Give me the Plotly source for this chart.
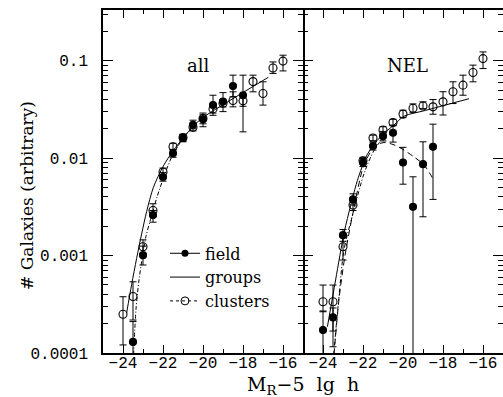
import plotly.graph_objects as go

# ---------------- tick labels ----------------
y_tickvals = [1e-4, 1e-3, 1e-2, 1e-1]
y_ticktext = ["0.0001", "0.001", "0.01", "0.1"]
y_minorvals = [m * d for d in (1e-4, 1e-3, 1e-2, 1e-1) for m in range(2, 10)]
x_tickvals = [-24, -22, -20, -18, -16]
x_minorvals = [-25, -23, -21, -19, -17, -15]

# ---------------- panel "all" ----------------
all_field_x = [-23.5, -23, -22.5, -22, -21.5, -21, -20.5, -20, -19.5, -19, -18.5, -18]
all_field_y = [0.00013, 0.00101, 0.0026, 0.0064, 0.0112, 0.0161, 0.0220, 0.0250, 0.0350, 0.0380, 0.0548, 0.0442]
all_field_lo = [0.00005, 0.00080, 0.0022, 0.0058, 0.0102, 0.0147, 0.0200, 0.0225, 0.0275, 0.0300, 0.0426, 0.0186]
all_field_hi = [0.00021, 0.00125, 0.0029, 0.0071, 0.0123, 0.0175, 0.0245, 0.0278, 0.0442, 0.0470, 0.0710, 0.0710]

all_clus_x = [-24, -23.5, -23, -22.5, -22, -21.5, -21, -20.5, -20, -19.5, -19, -18.5, -18, -17.5, -17, -16.5, -16]
all_clus_y = [0.00025, 0.00038, 0.00123, 0.0029, 0.0072, 0.0131, 0.0163, 0.0207, 0.0255, 0.0320, 0.0365, 0.0390, 0.0387, 0.0610, 0.0460, 0.0840, 0.0990]
all_clus_lo = [0.000121, 0.000218, 0.00105, 0.0025, 0.0066, 0.0121, 0.0150, 0.0190, 0.0210, 0.0290, 0.0335, 0.0336, 0.0340, 0.0479, 0.0350, 0.0740, 0.0785]
all_clus_hi = [0.000378, 0.000538, 0.00145, 0.0034, 0.0079, 0.0142, 0.0176, 0.0225, 0.0290, 0.0355, 0.0400, 0.0479, 0.0440, 0.0710, 0.0607, 0.0970, 0.1138]

all_groups_fit_x = [-23.82, -23.57, -23.32, -23.07, -22.82, -22.48, -21.98, -21.48, -20.98, -20.48, -19.98, -18.82, -16.73]
all_groups_fit_y = [0.000257, 0.000501, 0.000933, 0.00166, 0.00282, 0.00501, 0.00832, 0.0120, 0.0162, 0.0214, 0.0263, 0.0372, 0.0676]

all_clus_fit_x = [-23.47, -23.35, -23.2, -23.05, -22.85, -22.65, -22.3, -21.9, -21.5, -21.0, -20.5]
all_clus_fit_y = [0.0000955, 0.000282, 0.000562, 0.000912, 0.00158, 0.00224, 0.00398, 0.00692, 0.0110, 0.0158, 0.0209]

# ---------------- panel "NEL" ----------------
nel_field_x = [-24, -23.5, -23, -22.5, -22, -21.5, -21, -20.5, -20, -19.5, -19, -18.5]
nel_field_y = [0.000172, 0.000232, 0.00162, 0.00377, 0.0090, 0.0133, 0.0168, 0.0182, 0.00903, 0.00316, 0.00867, 0.0131]
nel_field_lo = [0.00005, 0.000168, 0.00140, 0.0033, 0.0082, 0.0121, 0.0150, 0.0146, 0.0054, 0.00005, 0.0025, 0.00377]
nel_field_hi = [0.00027, 0.00029, 0.00185, 0.0043, 0.0099, 0.0146, 0.0188, 0.0218, 0.0129, 0.00643, 0.0147, 0.0223]

nel_clus_x = [-24, -23.5, -23, -22.5, -22, -21.5, -21, -20.5, -20, -19.5, -19, -18.5, -18, -17.5, -17, -16.5, -16]
nel_clus_y = [0.000336, 0.000336, 0.00123, 0.0033, 0.0094, 0.0161, 0.0194, 0.0232, 0.0283, 0.0325, 0.0343, 0.0336, 0.0378, 0.0479, 0.0561, 0.0757, 0.105]
nel_clus_lo = [0.000265, 0.000116, 0.0009, 0.0029, 0.0087, 0.0151, 0.0180, 0.0215, 0.0260, 0.0295, 0.0322, 0.0282, 0.0277, 0.0363, 0.0442, 0.0607, 0.083]
nel_clus_hi = [0.000498, 0.000498, 0.00155, 0.0038, 0.0102, 0.0172, 0.0210, 0.0250, 0.0310, 0.0360, 0.0378, 0.0399, 0.0480, 0.0607, 0.0710, 0.0900, 0.123]

nel_groups_fit_x = [-23.78, -23.37, -22.95, -22.78, -22.28, -21.78, -21.12, -20.45, -19.95, -18.87, -16.7]
nel_groups_fit_y = [0.000186, 0.000562, 0.00170, 0.00240, 0.00589, 0.01096, 0.0166, 0.0219, 0.0269, 0.0309, 0.0407]

nel_clus_fit_x = [-23.47, -23.2, -22.95, -22.45, -21.95, -21.45, -21.0]
nel_clus_fit_y = [0.0000955, 0.000380, 0.00115, 0.00295, 0.00692, 0.0120, 0.0162]

nel_field_fit_x = [-23.45, -23.2, -22.9, -22.5, -22.0, -21.6, -21.25, -20.95, -20.5, -20.1, -19.5, -18.95, -18.45]
nel_field_fit_y = [0.0000955, 0.000355, 0.00100, 0.00275, 0.00794, 0.01175, 0.0138, 0.01445, 0.0138, 0.0126, 0.01047, 0.00851, 0.00589]

BLACK = "black"
TICKFONT = dict(family="Liberation Mono", size=16, color=BLACK)
TEXTFONT = "DejaVu Serif"
DASHDOT = "4px,2px,1px,2px"

fig = go.Figure()


def errs(y, lo, hi):
    return [h - v for v, h in zip(y, hi)], [v - l for v, l in zip(y, lo)]


def add_points(x, y, lo, hi, filled, xa, ya):
    plus, minus = errs(y, lo, hi)
    fig.add_trace(go.Scatter(
        x=x, y=y, mode="markers", xaxis=xa, yaxis=ya, showlegend=False,
        marker=dict(symbol="circle" if filled else "circle-open", size=7 if filled else 8,
                    color=BLACK, line=dict(width=1.1, color=BLACK)),
        error_y=dict(type="data", array=plus, arrayminus=minus, color=BLACK,
                     thickness=1, width=3.5, symmetric=False),
        cliponaxis=True,
    ))


def add_curve(x, y, dash, xa, ya):
    fig.add_trace(go.Scatter(
        x=x, y=y, mode="lines", xaxis=xa, yaxis=ya, showlegend=False,
        line=dict(color=BLACK, width=1, dash=dash, shape="spline", smoothing=0.8),
    ))


# curves
add_curve(all_groups_fit_x, all_groups_fit_y, "solid", "x", "y")
add_curve(all_clus_fit_x, all_clus_fit_y, DASHDOT, "x", "y")
add_curve(nel_groups_fit_x, nel_groups_fit_y, "solid", "x2", "y2")
add_curve(nel_clus_fit_x, nel_clus_fit_y, DASHDOT, "x2", "y2")
add_curve(nel_field_fit_x, nel_field_fit_y, "6px,4px", "x2", "y2")

# points
add_points(all_clus_x, all_clus_y, all_clus_lo, all_clus_hi, False, "x", "y")
add_points(all_field_x, all_field_y, all_field_lo, all_field_hi, True, "x", "y")
add_points(nel_clus_x, nel_clus_y, nel_clus_lo, nel_clus_hi, False, "x2", "y2")
add_points(nel_field_x, nel_field_y, nel_field_lo, nel_field_hi, True, "x2", "y2")

# legend entries
fig.add_trace(go.Scatter(x=[None], y=[None], mode="lines+markers", name="field",
                         line=dict(color=BLACK, width=1),
                         marker=dict(symbol="circle", size=7, color=BLACK)))
fig.add_trace(go.Scatter(x=[None], y=[None], mode="lines", name="groups",
                         line=dict(color=BLACK, width=1)))
fig.add_trace(go.Scatter(x=[None], y=[None], mode="lines+markers", name="clusters",
                         line=dict(color=BLACK, width=1, dash="dot"),
                         marker=dict(symbol="circle-open", size=8, color=BLACK)))

xcommon = dict(range=[-25, -15], tickvals=x_tickvals, ticks="inside", ticklen=8, tickwidth=1,
               tickcolor=BLACK, mirror="allticks", showline=True, linecolor=BLACK, linewidth=1.5,
               showgrid=False, zeroline=False, tickfont=TICKFONT, ticklabelstandoff=-6,
               minor=dict(tickvals=x_minorvals, ticks="inside", ticklen=4, tickwidth=1,
                          tickcolor=BLACK, showgrid=False))
ycommon = dict(type="log", range=[-4, -0.48], tickvals=y_tickvals, ticktext=y_ticktext,
               ticks="inside", ticklen=10, tickwidth=1, tickcolor=BLACK, mirror="allticks",
               linecolor=BLACK, linewidth=1.5, showgrid=False, zeroline=False,
               tickfont=TICKFONT,
               minor=dict(tickvals=y_minorvals, ticks="inside", ticklen=5, tickwidth=1,
                          tickcolor=BLACK, showgrid=False))

fig.update_layout(
    width=503, height=397,
    margin=dict(l=103, r=0, t=10, b=44),
    paper_bgcolor="white", plot_bgcolor="white",
    xaxis=dict(domain=[0, 0.5], anchor="y", **xcommon),
    xaxis2=dict(domain=[0.5, 1], anchor="y2", **xcommon),
    yaxis=dict(domain=[0, 1], anchor="x", ticklabelstandoff=10, showline=True, **ycommon),
    yaxis2=dict(domain=[0, 1], anchor="x2", showticklabels=False, showline=False, **ycommon),
    yaxis3=dict(type="log", range=[-4, -0.48], overlaying="y", anchor="x", side="left",
                tickvals=y_tickvals, ticks="outside", ticklen=5, tickwidth=1, tickcolor=BLACK,
                showticklabels=False, showline=False, showgrid=False, zeroline=False),
    legend=dict(x=0.155, y=0.34, xanchor="left", yanchor="top", bgcolor="rgba(0,0,0,0)",
                font=dict(family=TEXTFONT, size=16, color=BLACK), tracegroupgap=0,
                itemwidth=30),
    showlegend=True,
    annotations=[
        dict(text="all", xref="x domain", yref="y domain", x=0.475, y=0.875,
             showarrow=False, font=dict(family=TEXTFONT, size=18, color=BLACK)),
        dict(text="NEL", xref="x2 domain", yref="y2 domain", x=0.52, y=0.875,
             showarrow=False, font=dict(family=TEXTFONT, size=18, color=BLACK)),
        dict(text="# Galaxies (arbitrary)", xref="paper", yref="paper", x=-0.19, y=0.458,
             textangle=-90, showarrow=False, xanchor="center", yanchor="middle",
             font=dict(family=TEXTFONT, size=17, color=BLACK)),
        dict(text="M<sub>R</sub>\u22125\u00a0\u00a0lg\u00a0\u00a0h", xref="paper", yref="paper",
             x=0.5, y=-0.095, showarrow=False, xanchor="center", yanchor="middle",
             font=dict(family=TEXTFONT, size=19, color=BLACK)),
    ],
)

fig.write_html(
    "out.html",
    config={"displayModeBar": False},
    post_script="document.body.style.margin='0';document.body.style.overflow='hidden';",
)
